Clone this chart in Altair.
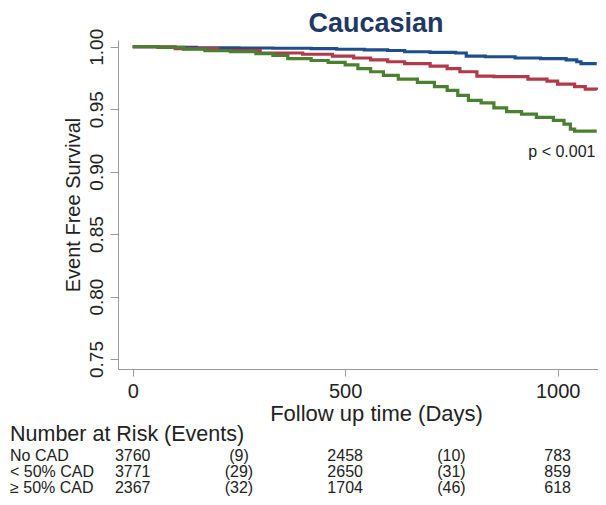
import altair as alt
import pandas as pd

# ---- survival curves (step functions) ----
groups = ["No CAD", "< 50% CAD", "≥ 50% CAD"]
colors = ["#1f4e8c", "#b03a4a", "#4b8030"]

days_no = [0, 60, 150, 250, 330, 420, 480, 545, 600, 640, 700, 760, 785, 830, 900, 960, 1020, 1045, 1055, 1092]
surv_no = [1.0, 0.9995, 0.9992, 0.999, 0.9988, 0.9985, 0.998, 0.9975, 0.997, 0.996, 0.9955, 0.995, 0.9925, 0.992, 0.991, 0.9905, 0.9895, 0.988, 0.9865, 0.9865]

days_lt = [0, 100, 200, 300, 400, 470, 520, 560, 600, 640, 700, 740, 770, 810, 850, 930, 975, 1000, 1040, 1065, 1092]
surv_lt = [1.0, 0.9985, 0.997, 0.995, 0.994, 0.9925, 0.991, 0.9895, 0.988, 0.9865, 0.9845, 0.9825, 0.980, 0.9765, 0.976, 0.974, 0.9725, 0.970, 0.968, 0.966, 0.9655]

days_ge = [0, 60, 120, 170, 230, 290, 330, 365, 420, 460, 500, 530, 560, 590, 625, 670, 710, 740, 765, 790, 820, 850, 880, 915, 950, 990, 1015, 1030, 1040, 1092]
surv_ge = [1.0, 0.9995, 0.998, 0.9968, 0.996, 0.9945, 0.993, 0.9905, 0.989, 0.9875, 0.9855, 0.9825, 0.980, 0.977, 0.974, 0.9715, 0.968, 0.965, 0.961, 0.957, 0.955, 0.951, 0.948, 0.946, 0.9435, 0.941, 0.938, 0.934, 0.9325, 0.9325]

# ---- number at risk table ----
risk_days = [0, 250, 500, 750, 1000]
risk_no = ["3760", "(9)", "2458", "(10)", "783"]
risk_lt = ["3771", "(29)", "2650", "(31)", "859"]
risk_ge = ["2367", "(32)", "1704", "(46)", "618"]

x_ticks = [0, 500, 1000]
y_ticks = [0.75, 0.80, 0.85, 0.90, 0.95, 1.00]

FONT = "Liberation Sans"
PLOT_W, PLOT_H = 480, 329

curve_df = pd.concat([
    pd.DataFrame({"day": days_no, "surv": surv_no, "group": groups[0]}),
    pd.DataFrame({"day": days_lt, "surv": surv_lt, "group": groups[1]}),
    pd.DataFrame({"day": days_ge, "surv": surv_ge, "group": groups[2]}),
])

xscale = alt.Scale(domain=[-34.6, 1095], nice=False, zero=False)
yscale = alt.Scale(domain=[0.742, 1.0054], nice=False, zero=False)

x_axis = alt.Axis(values=x_ticks, format="d", title="Follow up time (Days)", grid=False,
                  labelFontSize=20, titleFontSize=22, labelFont=FONT, titleFont=FONT,
                  titleFontWeight="normal", labelColor="#222222", titleColor="#222222",
                  domainColor="#9a9a9a", tickColor="#9a9a9a", tickSize=7,
                  labelPadding=5, titlePadding=2, titleX=258)

lines = alt.Chart(curve_df).mark_line(interpolate="step-after", strokeWidth=3.2).encode(
    x=alt.X("day:Q", scale=xscale, axis=x_axis),
    y=alt.Y("surv:Q", scale=yscale,
            axis=alt.Axis(values=y_ticks, format=".2f", title="Event Free Survival", grid=False,
                          labelFontSize=19, titleFontSize=20, labelFont=FONT, titleFont=FONT,
                          titleFontWeight="normal", labelColor="#222222", titleColor="#222222",
                          domainColor="#9a9a9a", tickColor="#9a9a9a", tickSize=8,
                          labelAngle=-90, labelAlign="center", labelBaseline="bottom",
                          labelPadding=4, titlePadding=4)),
    color=alt.Color("group:N", scale=alt.Scale(domain=groups, range=colors), legend=None),
    detail="group:N",
)

pval = alt.Chart().mark_text(font=FONT, fontSize=16, color="#222222").encode(
    x=alt.datum(1010), y=alt.datum(0.916), text=alt.value("p < 0.001"))

layers = [lines, pval]

header = alt.Chart().mark_text(font=FONT, fontSize=21.5, align="left", baseline="middle",
                               color="#222222").encode(
    x=alt.value(-108), y=alt.value(395), text=alt.value("Number at Risk (Events)"))
layers.append(header)

row_y = [416, 432, 448]
for name, vals, yy in zip(groups, [risk_no, risk_lt, risk_ge], row_y):
    lab = alt.Chart().mark_text(font=FONT, fontSize=16, align="left", baseline="middle",
                                color="#222222").encode(
        x=alt.value(-108), y=alt.value(yy), text=alt.value(name))
    nums = alt.Chart(pd.DataFrame({"day": risk_days, "txt": vals})).mark_text(
        font=FONT, fontSize=16, align="center", baseline="middle", color="#222222").encode(
        x=alt.X("day:Q", scale=xscale, axis=x_axis), y=alt.value(yy), text="txt:N")
    layers += [lab, nums]

chart = alt.layer(*layers).properties(
    width=PLOT_W, height=PLOT_H,
    title=alt.TitleParams("Caucasian", font=FONT, fontSize=27, fontWeight="bold",
                          color="#1f3864", anchor="middle", dx=18, offset=-10),
    autosize=alt.AutoSizeParams(type="none"),
    padding={"left": 110, "top": 32, "right": 0, "bottom": 128},
).configure_view(stroke=None)

chart.save("out.html", embed_options={"renderer": "svg", "actions": False})
